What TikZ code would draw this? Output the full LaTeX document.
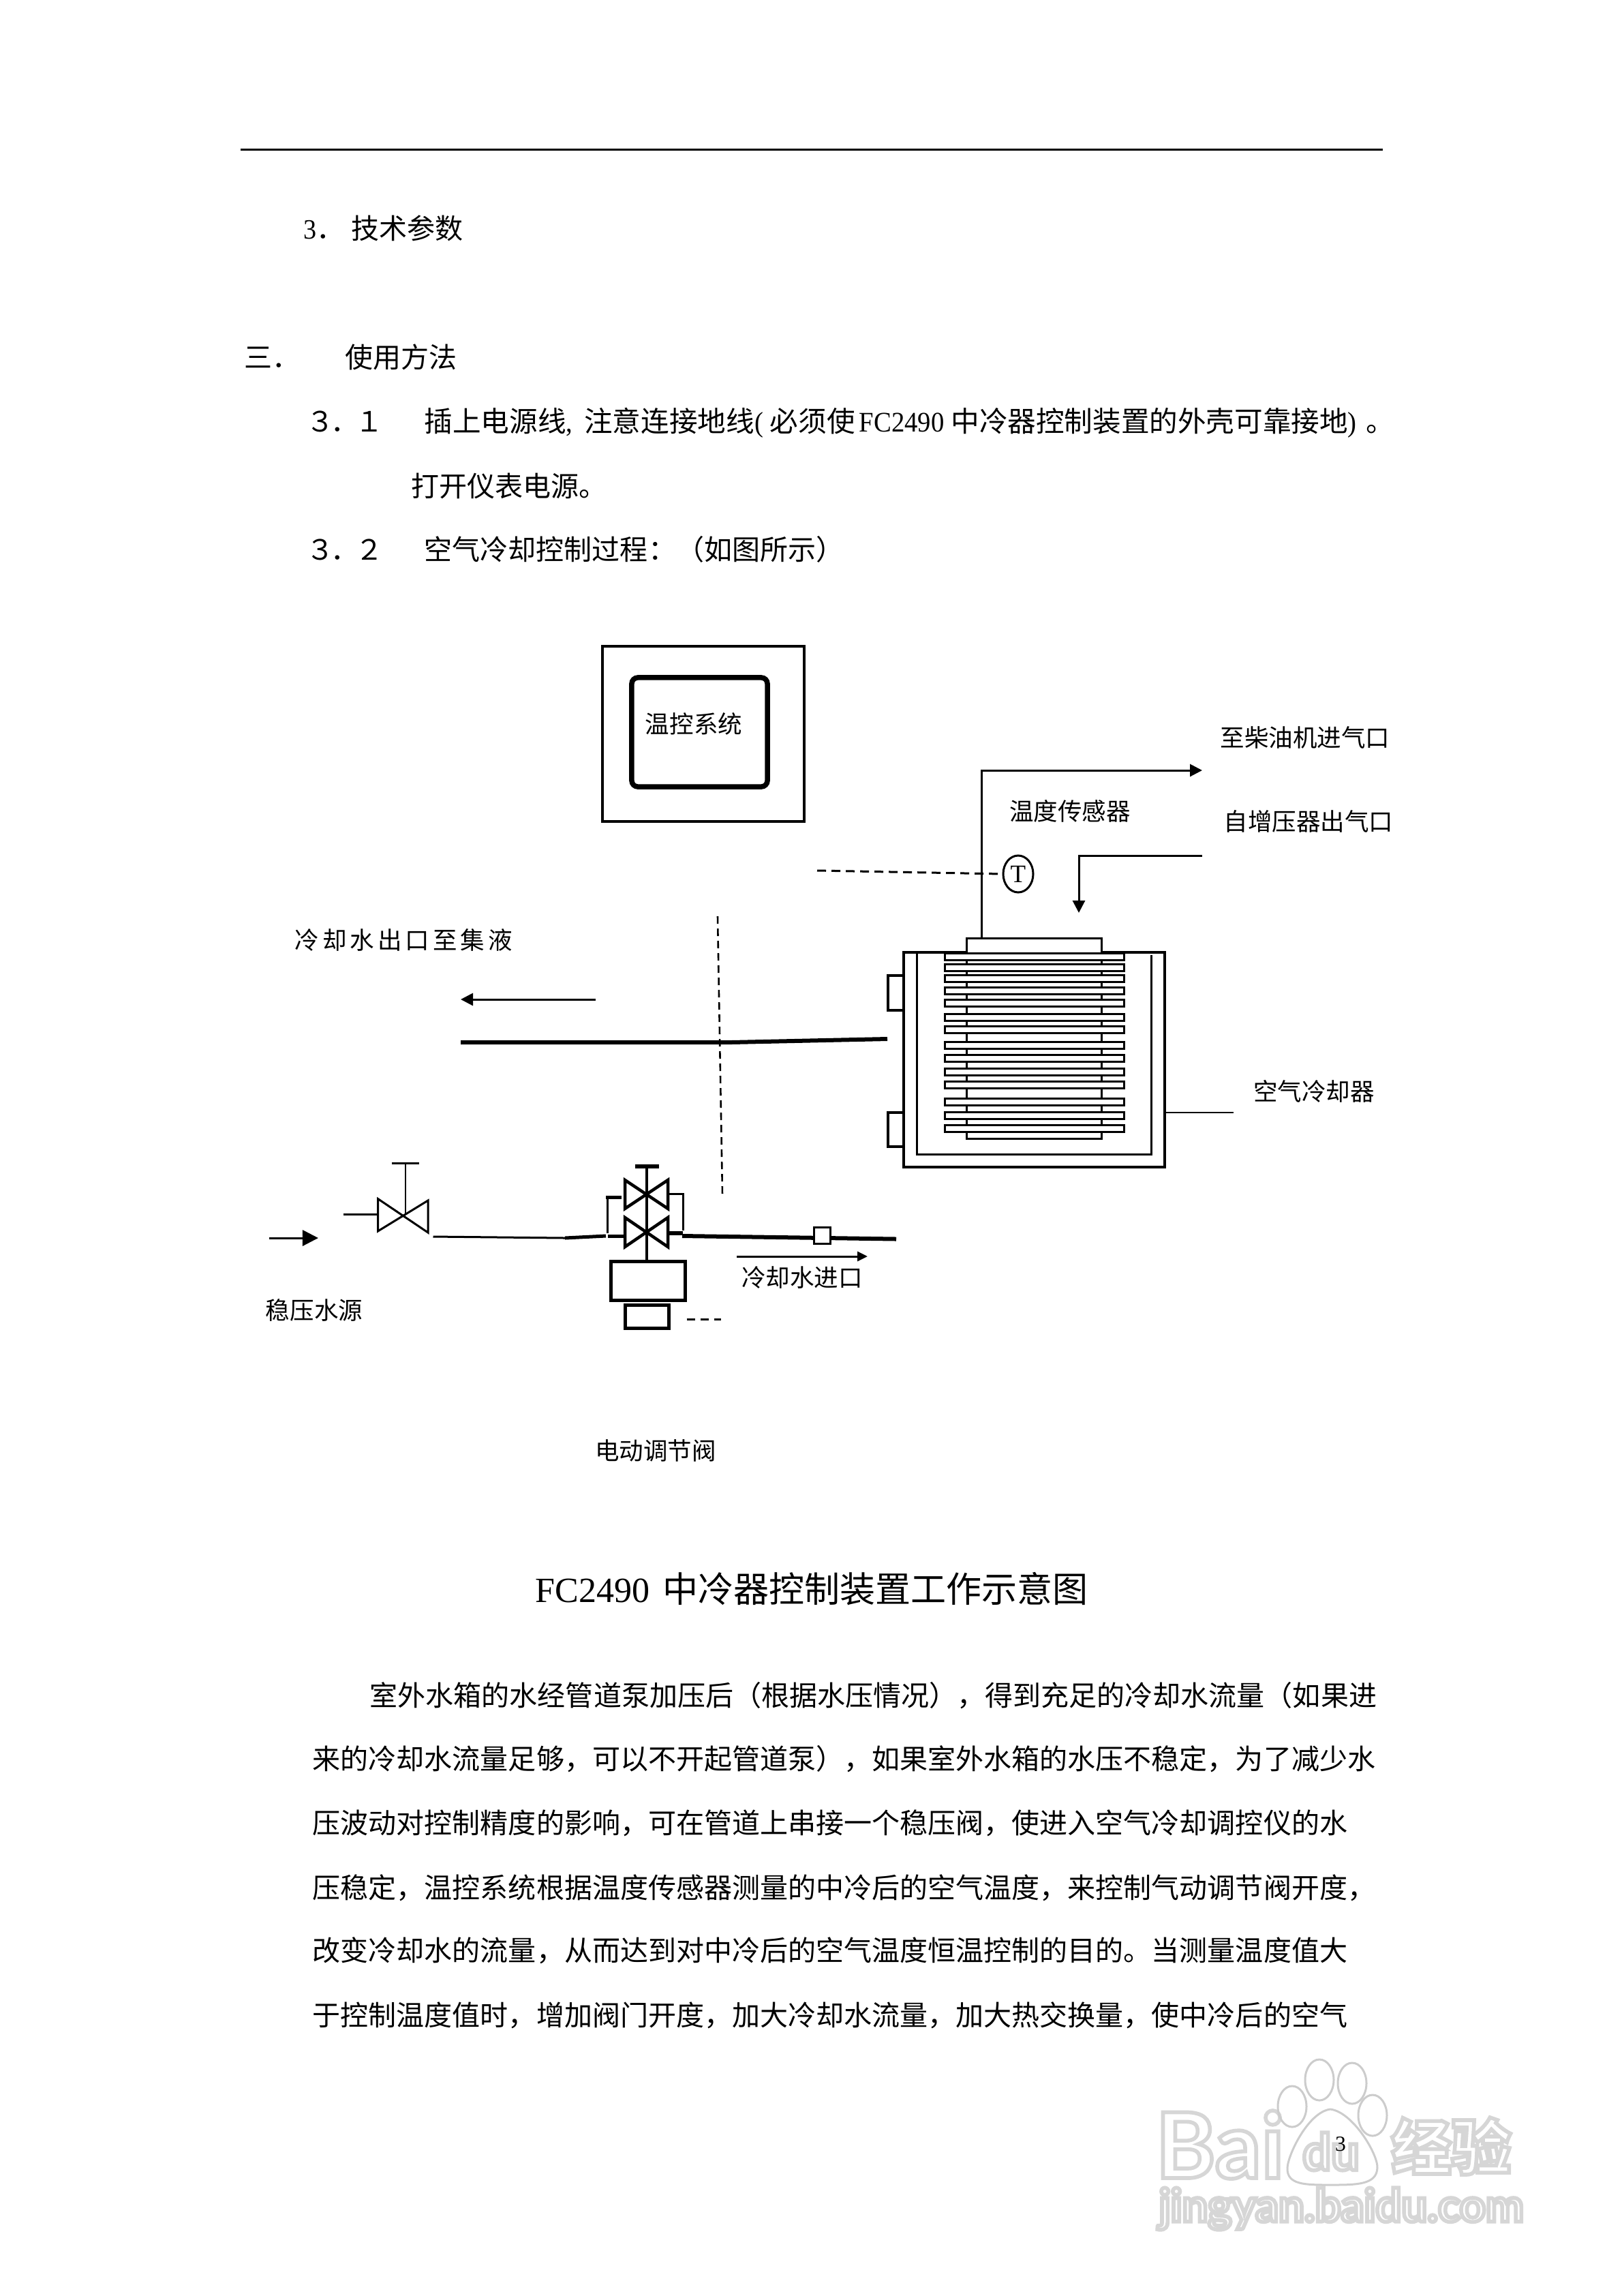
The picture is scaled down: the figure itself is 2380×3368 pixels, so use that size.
\documentclass[tikz,border=0pt]{standalone}
\usepackage{fontspec}
\setmainfont{Noto Sans CJK SC}
\newfontfamily\latinfont{Liberation Serif}
\newfontfamily\latinbody[FakeStretch=0.93]{Liberation Serif}
\newfontfamily\wmfont{Lato}
\usepackage{tikz}
\usetikzlibrary{calc,shapes.geometric,arrows.meta,positioning}
\newcommand{\outlinetext}[1]{\special{pdf:code 1 Tr 1.6 w 0.84 G}#1\special{pdf:code 0 Tr 0 G}}

\begin{document}
\begin{tikzpicture}[
        x=0.01cm, y=-0.01cm,
        >={Triangle[length=0.18cm,width=0.18cm]},
        % Style cho chu
        bodyline/.style={anchor=west, inner sep=0pt, text height=0.36cm, text depth=0.05cm, font=\fontsize{11.67pt}{14pt}\selectfont},
        lbl/.style={inner sep=0pt, text height=0.31cm, text depth=0.04cm, font=\fontsize{10.1pt}{12pt}\selectfont},
        wmark/.style={inner sep=0pt, text=white},
        % Style cho duong ong
        line1/.style={line width=0.03cm},
        line2/.style={line width=0.02cm},
        thickpipe/.style={line width=0.06cm},
        medpipe/.style={line width=0.05cm},
        sigline/.style={line width=0.03cm, dash pattern=on 0.13cm off 0.08cm},
        valve/.style={line width=0.045cm, line join=miter},
        % Style cho cac hop
        box/.style={rectangle, draw, line width=0.035cm, fill=white, inner sep=0pt},
        fin/.style={box, line width=0.03cm, minimum width=2.62cm, minimum height=0.1cm}
    ]
        \useasboundingbox (0,0) rectangle (2380,3368);

        % 1. Watermark
        \node[wmark, font=\wmfont\bfseries\fontsize{38pt}{42pt}\selectfont, anchor=west] (wmbai) at (1695,3146) {\outlinetext{Bai}};
        \node[wmark, font=\wmfont\bfseries\fontsize{21pt}{24pt}\selectfont] (wmdu) at (1953,3156) {\outlinetext{du}};
        \node[wmark, font=\bfseries\fontsize{25pt}{28pt}\selectfont, anchor=west] (wmjy) at (2041,3148) {\outlinetext{经验}};
        \node[wmark, font=\wmfont\bfseries\fontsize{19pt}{22pt}\selectfont, anchor=west] (wmurl) at (1700,3240) {\outlinetext{jingyan.baidu.com}};
        \node[ellipse, draw=black!20, line width=0.03cm, minimum width=0.42cm, minimum height=0.6cm] (toe1) at (1896,3090) {};
        \node[ellipse, draw=black!20, line width=0.03cm, minimum width=0.42cm, minimum height=0.6cm] (toe2) at (1936,3051) {};
        \node[ellipse, draw=black!20, line width=0.03cm, minimum width=0.42cm, minimum height=0.6cm] (toe3) at (1984,3056) {};
        \node[ellipse, draw=black!20, line width=0.03cm, minimum width=0.42cm, minimum height=0.6cm] (toe4) at (2014,3103) {};
        \draw[black!20, line width=0.03cm] (1952,3094) .. controls (1985,3098) and (2022,3160) .. (2021,3180)
            .. controls (2020,3205) and (1990,3205) .. (1952,3205)
            .. controls (1915,3205) and (1888,3205) .. (1889,3180)
            .. controls (1890,3160) and (1920,3098) .. (1952,3094);

        % 2. Dong ke va cac dong chu o tren
        \coordinate (ruleL) at (353,219);
        \coordinate (ruleR) at (2029,219);
        \draw[line1] (ruleL) -- (ruleR);
        \node[bodyline] (sec3) at (445,335) {{\latinbody 3}．\kern0.1cm 技术参数};
        \node[bodyline] (sec3b) at (358,524) {三．};
        \node[bodyline] (sec3c) at (506,524) {使用方法};
        \node[bodyline] (n31) at (449,618) {３\kern-0.05cm ．\kern-0.05cm １};
        \node[bodyline, font=\fontsize{11.83pt}{14pt}\selectfont] (t31) at (622,618) {插上电源线{\latinbody ,}\kern0.17cm 注意连接地线{\latinbody (}\kern0.1cm 必须使\kern0.06cm{\latinbody FC2490}\kern0.1cm 中冷器控制装置的外壳可靠接地{\latinbody )}\kern0.14cm。};
        \node[bodyline] (t31b) at (603,713) {打开仪表电源。};
        \node[bodyline] (n32) at (449,806) {３\kern-0.05cm ．\kern-0.05cm ２};
        \node[bodyline] (t32) at (622,806) {空气冷却控制过程：（如图所示）};

        % 3. Hop dieu khien
        \node[box, minimum width=2.96cm, minimum height=2.57cm] (panel) at (1032,1076.5) {};
        \node[box, line width=0.075cm, rounded corners=0.09cm, minimum width=1.99cm, minimum height=1.6cm] (screen) at (1026.5,1074) {};
        \node[lbl] (screentxt) at (1018,1062) {温控系统};

        % 4. Bo lam mat khong khi
        \node[box, minimum width=3.83cm, minimum height=3.15cm] (cooler) at (1517.5,1554.5) {};
        \node[box, line width=0.03cm, minimum width=1.97cm, minimum height=2.93cm] (core) at (1517.5,1523.5) {};
        \node[fin] (fin1) at (1518,1403) {};
        \node[fin] (fin2) at (1518,1419) {};
        \node[fin] (fin3) at (1518,1435) {};
        \node[fin] (fin4) at (1518,1453) {};
        \node[fin] (fin5) at (1518,1471) {};
        \node[fin] (fin6) at (1518,1492) {};
        \node[fin] (fin7) at (1518,1510) {};
        \node[fin] (fin8) at (1518,1533) {};
        \node[fin] (fin9) at (1518,1552) {};
        \node[fin] (fin10) at (1518,1572) {};
        \node[fin] (fin11) at (1518,1591) {};
        \node[fin] (fin12) at (1518,1616) {};
        \node[fin] (fin13) at (1518,1636) {};
        \node[fin] (fin14) at (1518,1655) {};
        \node[box, minimum width=0.23cm, minimum height=0.51cm] (portA) at (1314.5,1456.5) {};
        \node[box, minimum width=0.23cm, minimum height=0.5cm] (portB) at (1314.5,1657) {};
        \coordinate (trayTL) at (1345,1397);
        \coordinate (trayBL) at (1345,1693);
        \coordinate (trayBR) at (1689,1693);
        \coordinate (trayTR) at (1689,1401);
        \draw[line1] (trayTL) -- (trayBL) -- (trayBR) -- (trayTR);

        % 5. Duong khi va cam bien nhiet do
        \coordinate (airOutA) at (1440,1376);
        \coordinate (airOutB) at (1440,1130);
        \coordinate (airOutC) at (1764,1130);
        \coordinate (airInA) at (1764,1255);
        \coordinate (airInB) at (1583,1255);
        \coordinate (airInC) at (1583,1339);
        \draw[->, line1] (airOutA) -- (airOutB) -- (airOutC);
        \draw[->, line1] (airInA) -- (airInB) -- (airInC);
        \node[ellipse, draw, line width=0.03cm, inner sep=0pt, minimum width=0.44cm, minimum height=0.54cm, font=\latinfont\fontsize{10.5pt}{12pt}\selectfont] (sensor) at (1494,1282) {T};
        \coordinate (sigA) at (1199,1277);
        \draw[sigline] (sigA) -- (sensor.west);
        \coordinate (coolerTag) at (1810,1632);
        \draw[line2] (cooler.east |- coolerTag) -- (coolerTag);

        % 6. Duong nuoc lam mat ra
        \coordinate (retA) at (1302,1524);
        \coordinate (retB) at (1073,1529);
        \coordinate (retC) at (676,1529);
        \draw[thickpipe] (retA) -- (retB) -- (retC);
        \coordinate (retArrowA) at (874,1466);
        \coordinate (retArrowB) at (676,1466);
        \draw[->, line1] (retArrowA) -- (retArrowB);
        \coordinate (sigB) at (1053,1344);
        \coordinate (sigC) at (1060,1753);
        \draw[line width=0.026cm, dash pattern=on 0.11cm off 0.07cm] (sigB) -- (sigC);

        % 7. Van tay va nguon nuoc
        \coordinate (srcA) at (395,1816);
        \coordinate (srcB) at (467,1816);
        \draw[-{Triangle[length=0.23cm,width=0.23cm]}, line1] (srcA) -- (srcB);
        \coordinate (hvTL) at (554.5,1758.5);
        \coordinate (hvBR) at (628,1808);
        \coordinate (hvTR) at (628,1761);
        \coordinate (hvBL) at (554.5,1806);
        \draw[line1] (hvTL) -- (hvBR) -- (hvTR) -- (hvBL) -- cycle;
        \coordinate (hvStemA) at (595,1782);
        \coordinate (hvStemB) at (595,1706);
        \coordinate (hvCapA) at (575,1706);
        \coordinate (hvCapB) at (615,1706);
        \draw[line2] (hvStemA) -- (hvStemB);
        \draw[line1] (hvCapA) -- (hvCapB);
        \coordinate (hvStubA) at (503.5,1781);
        \coordinate (hvStubB) at (554.5,1781);
        \draw[line1] (hvStubA) -- (hvStubB);
        \coordinate (feedA) at (635.5,1814);
        \coordinate (feedB) at (829,1816);
        \coordinate (feedC) at (889,1813);
        \draw[line1] (feedA) -- (feedB);
        \draw[medpipe] (feedB) -- (feedC);

        % 8. Van dieu chinh dien
        \coordinate (mvTopTL) at (917,1731);
        \coordinate (mvTopBR) at (980,1773);
        \coordinate (mvTopTR) at (980,1731);
        \coordinate (mvTopBL) at (917,1773);
        \draw[valve] (mvTopTL) -- (mvTopBR) -- (mvTopTR) -- (mvTopBL) -- cycle;
        \coordinate (mvLowTL) at (917,1786);
        \coordinate (mvLowBR) at (980,1829);
        \coordinate (mvLowTR) at (980,1786);
        \coordinate (mvLowBL) at (917,1829);
        \draw[valve] (mvLowTL) -- (mvLowBR) -- (mvLowTR) -- (mvLowBL) -- cycle;
        \coordinate (mvStemTop) at (949,1711);
        \coordinate (mvStemBot) at (949,1849);
        \draw[line width=0.035cm] (mvStemTop) -- (mvStemBot);
        \coordinate (mvCapA) at (932,1711);
        \coordinate (mvCapB) at (967,1711);
        \draw[thickpipe] (mvCapA) -- (mvCapB);
        \coordinate (byLA) at (891,1809);
        \coordinate (byLB) at (891,1756);
        \coordinate (byLC) at (912,1756);
        \draw[line1] (byLA) -- (byLB);
        \draw[medpipe] (byLB) ++(-2,0) -- (byLC);
        \coordinate (byRA) at (982,1751);
        \coordinate (byRB) at (1002,1751);
        \coordinate (byRC) at (1002,1805);
        \draw[line1] (byRA) -- (byRB) -- (byRC);
        \coordinate (stubLA) at (892,1813);
        \coordinate (stubLB) at (917,1813);
        \draw[medpipe] (stubLA) -- (stubLB);
        \coordinate (stubRA) at (980,1809);
        \coordinate (stubRB) at (1002,1809);
        \draw[thickpipe] (stubRA) -- (stubRB);
        \coordinate (wtrA) at (1001,1813);
        \coordinate (wtrB) at (1315,1817.5);
        \draw[thickpipe] (wtrA) -- (wtrB);
        \node[box, line width=0.03cm, minimum width=0.24cm, minimum height=0.24cm] (flowmeter) at (1206,1812) {};
        \node[box, line width=0.05cm, minimum width=1.08cm, minimum height=0.57cm] (actuator) at (951,1878.5) {};
        \node[box, line width=0.05cm, minimum width=0.63cm, minimum height=0.34cm] (positioner) at (949.5,1931) {};
        \coordinate (mvDash) at (1058,1935);
        \draw[line1, dash pattern=on 0.12cm off 0.08cm] (positioner.east |- mvDash) ++(24,0) -- (mvDash);
        \coordinate (inletA) at (1081,1843);
        \coordinate (inletB) at (1273,1843);
        \draw[-{Triangle[length=0.15cm,width=0.14cm]}, line1] (inletA) -- (inletB);

        % 9. Chu trong so do
        \node[lbl] (txtEngine) at (1915,1082) {至柴油机进气口};
        \node[lbl] (txtSensor) at (1570,1190) {温度传感器};
        \node[lbl] (txtBoost) at (1920,1205) {自增压器出气口};
        \node[lbl] (txtCooler) at (1928,1601) {空气冷却器};
        \node[lbl, anchor=west] (txtRet) at (432,1379) {冷\kern0.05cm 却\kern0.05cm 水\kern0.05cm 出\kern0.05cm 口\kern0.05cm 至\kern0.05cm 集\kern0.05cm 液};
        \node[lbl] (txtInlet) at (1177,1874) {冷却水进口};
        \node[lbl] (txtSource) at (461,1922) {稳压水源};
        \node[lbl] (txtValve) at (962,2128) {电动调节阀};

        % 10. Ten hinh va doan van
        \node[inner sep=0pt, anchor=west, font=\fontsize{14.8pt}{18pt}\selectfont] (caption) at (785,2331) {{\latinfont FC2490}\kern0.19cm 中冷器控制装置工作示意图};
        \node[bodyline] (para1) at (542,2487) {室外水箱的水经管道泵加压后（根据水压情况），得到充足的冷却水流量（如果进};
        \node[bodyline] (para2) at (458,2580) {来的冷却水流量足够，可以不开起管道泵），如果室外水箱的水压不稳定，为了减少水};
        \node[bodyline] (para3) at (458,2674) {压波动对控制精度的影响，可在管道上串接一个稳压阀，使进入空气冷却调控仪的水};
        \node[bodyline] (para4) at (458,2769) {压稳定，温控系统根据温度传感器测量的中冷后的空气温度，来控制气动调节阀开度，};
        \node[bodyline] (para5) at (458,2861) {改变冷却水的流量，从而达到对中冷后的空气温度恒温控制的目的。当测量温度值大};
        \node[bodyline] (para6) at (458,2956) {于控制温度值时，增加阀门开度，加大冷却水流量，加大热交换量，使中冷后的空气};
        \node[inner sep=0pt, font=\latinfont\fontsize{9pt}{10pt}\selectfont] (pagenum) at (1967,3145) {3};

    \end{tikzpicture}
\end{document}
